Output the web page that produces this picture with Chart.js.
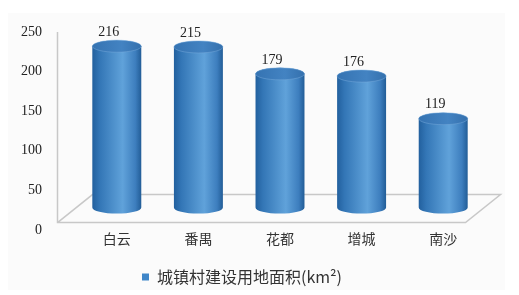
<!DOCTYPE html>
<html>
<head>
<meta charset="utf-8">
<script src="https://cdn.jsdelivr.net/npm/chart.js@4/dist/chart.umd.min.js"></script>
<style>
  html, body { margin: 0; padding: 0; background: #fff; }
  #wrap { width: 519px; height: 295px; }
</style>
</head>
<body>
<div id="wrap"><canvas id="myChart"></canvas></div>
<script>
const districts = ["白云", "番禺", "花都", "增城", "南沙"];
const landArea = [216, 215, 179, 176, 119];
const yTicks = [0, 50, 100, 150, 200, 250];
const seriesName = "城镇村建设用地面积(km²)";

const ctx = document.getElementById("myChart").getContext("2d");

// depth of the 3d floor
const DEPTH_X = 35;
const DEPTH_Y = 28;

const frame3d = {
  id: "frame3d",
  beforeDraw(chart) {
    const c = chart.ctx;
    c.save();
    c.fillStyle = "#fbfbfb";
    c.fillRect(8, 13, 497, 277);
    c.restore();
  },
  beforeDatasetsDraw(chart) {
    const c = chart.ctx;
    const area = chart.chartArea;
    const yb = chart.scales.yb;
    const base = yb.getPixelForValue(0);
    const fl = area.left - DEPTH_X / 2 - 1;
    const fr = area.right - DEPTH_X / 2 - 1;
    const fy = base + DEPTH_Y / 2 + 1;
    c.save();
    c.strokeStyle = "#c8c8c8";
    c.lineWidth = 1.5;
    c.beginPath();
    c.moveTo(fl, area.top);
    c.lineTo(fl, fy);
    c.lineTo(fr, fy);
    c.lineTo(fr + DEPTH_X, fy - DEPTH_Y);
    c.lineTo(fl + DEPTH_X, fy - DEPTH_Y);
    c.lineTo(fl, fy);
    c.stroke();
    c.restore();
  },
  beforeDatasetDraw() {
    return false;
  },
  afterDatasetsDraw(chart) {
    const c = chart.ctx;
    const meta = chart.getDatasetMeta(0);
    meta.data.forEach((bar, i) => {
      const x = bar.x;
      const top = bar.y;
      const bottom = bar.base;
      const rx = bar.width / 2;
      const ry = 6;

      const grad = c.createLinearGradient(x - rx, 0, x + rx, 0);
      grad.addColorStop(0, "#22609e");
      grad.addColorStop(0.15, "#3376b6");
      grad.addColorStop(0.62, "#60a2da");
      grad.addColorStop(0.88, "#3d7ebe");
      grad.addColorStop(1, "#225d97");

      c.save();
      c.beginPath();
      c.moveTo(x - rx, top);
      c.lineTo(x - rx, bottom);
      c.ellipse(x, bottom, rx, ry, 0, Math.PI, 0, true);
      c.lineTo(x + rx, top);
      c.ellipse(x, top, rx, ry, 0, 0, Math.PI, true);
      c.closePath();
      c.fillStyle = grad;
      c.fill();

      const capGrad = c.createLinearGradient(x - rx, 0, x + rx, 0);
      capGrad.addColorStop(0, "#3573b2");
      capGrad.addColorStop(0.6, "#4383c2");
      capGrad.addColorStop(1, "#3470ad");
      c.beginPath();
      c.ellipse(x, top, rx, ry, 0, 0, Math.PI * 2);
      c.fillStyle = capGrad;
      c.fill();
      c.strokeStyle = "rgba(120,170,220,0.6)";
      c.lineWidth = 0.8;
      c.stroke();

      c.fillStyle = "#222";
      c.font = "14px 'Liberation Serif', serif";
      c.textAlign = "center";
      c.textBaseline = "middle";
      c.fillText(String(landArea[i]), x - 8, top - 14);
      c.restore();
    });
  },
};

new Chart(ctx, {
  type: "bar",
  data: {
    labels: districts,
    datasets: [
      {
        label: seriesName,
        data: landArea,
        yAxisID: "yb",
        backgroundColor: "#3f86c8",
        borderWidth: 0,
        barPercentage: 0.6,
        categoryPercentage: 1,
      },
    ],
  },
  options: {
    responsive: true,
    maintainAspectRatio: false,
    animation: false,
    layout: {
      padding: { top: 32, right: 35, bottom: 0, left: 0 },
    },
    plugins: {
      tooltip: { enabled: false },
      legend: {
        position: "bottom",
        labels: {
          boxWidth: 7,
          boxHeight: 7,
          padding: 8,
          color: "#333",
          font: { family: "'Noto Sans CJK SC', sans-serif", size: 16 },
        },
      },
    },
    scales: {
      x: {
        grid: { display: false, drawTicks: false },
        border: { display: false },
        ticks: {
          padding: 0,
          color: "#333",
          font: { family: "'Noto Sans CJK SC', sans-serif", size: 14 },
        },
        afterFit(scale) {
          scale.height = 31;
        },
      },
      y: {
        position: "left",
        min: yTicks[0],
        max: yTicks[yTicks.length - 1],
        grid: { display: false, drawTicks: false },
        border: { display: false },
        afterBuildTicks(scale) {
          scale.ticks = yTicks.map((v) => ({ value: v }));
        },
        ticks: {
          padding: 34,
          color: "#222",
          font: { family: "'Liberation Serif', serif", size: 14 },
        },
        afterFit(scale) {
          scale.width = 76;
          scale.paddingTop = 0;
          scale.paddingBottom = 0;
        },
      },
      yb: {
        display: false,
        min: -30,
        max: 235,
      },
    },
  },
  plugins: [frame3d],
});
</script>
</body>
</html>
